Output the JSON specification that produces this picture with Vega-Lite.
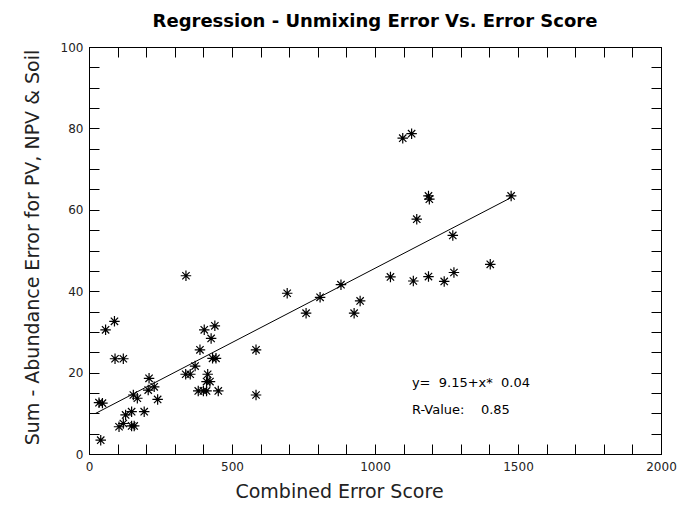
{
  "$schema": "https://vega.github.io/schema/vega-lite/v6.json",
  "autosize": {"type": "none"},
  "width": 572,
  "height": 407,
  "padding": {"left": 89, "top": 47, "right": 26, "bottom": 59},
  "background": "white",
  "config": {
    "view": {"stroke": "#000000", "strokeWidth": 1, "fill": "white"},
    "font": "DejaVu Sans",
    "axis": {"grid": false, "domain": true, "domainColor": "#000000", "domainWidth": 1, "ticks": true, "tickColor": "#000000", "tickWidth": 1, "labelColor": "#222", "titleColor": "#222", "labelFont": "DejaVu Sans", "titleFont": "DejaVu Sans", "titleFontWeight": "normal", "labelFontSize": 12, "titleFontSize": 19}
  },
  "title": {"text": "Regression - Unmixing Error Vs. Error Score", "fontSize": 18, "fontWeight": "bold", "font": "DejaVu Sans", "color": "black", "anchor": "middle", "offset": 10},
  "datasets": {
    "pts": [
      {"score": 35, "err": 12.6}, {"score": 47, "err": 12.5}, {"score": 41, "err": 3.4},
      {"score": 58, "err": 30.5}, {"score": 89, "err": 32.6}, {"score": 91, "err": 23.4},
      {"score": 120, "err": 23.4}, {"score": 105, "err": 6.7}, {"score": 120, "err": 7.5},
      {"score": 128, "err": 9.6}, {"score": 149, "err": 10.4}, {"score": 149, "err": 6.9},
      {"score": 158, "err": 6.9}, {"score": 155, "err": 14.5}, {"score": 169, "err": 13.7},
      {"score": 193, "err": 10.4}, {"score": 210, "err": 18.6}, {"score": 207, "err": 15.7},
      {"score": 228, "err": 16.5}, {"score": 240, "err": 13.4}, {"score": 338, "err": 19.6},
      {"score": 354, "err": 19.6}, {"score": 371, "err": 21.6}, {"score": 388, "err": 25.6},
      {"score": 403, "err": 30.5}, {"score": 427, "err": 28.4}, {"score": 440, "err": 31.5},
      {"score": 432, "err": 23.5}, {"score": 444, "err": 23.5}, {"score": 415, "err": 19.6},
      {"score": 411, "err": 17.8}, {"score": 423, "err": 17.8}, {"score": 382, "err": 15.5},
      {"score": 400, "err": 15.5}, {"score": 411, "err": 15.5}, {"score": 452, "err": 15.5},
      {"score": 584, "err": 25.6}, {"score": 584, "err": 14.5}, {"score": 339, "err": 43.8},
      {"score": 693, "err": 39.5}, {"score": 759, "err": 34.6}, {"score": 808, "err": 38.5},
      {"score": 881, "err": 41.6}, {"score": 927, "err": 34.6}, {"score": 948, "err": 37.6},
      {"score": 1054, "err": 43.5}, {"score": 1134, "err": 42.5}, {"score": 1187, "err": 43.6},
      {"score": 1242, "err": 42.4}, {"score": 1276, "err": 44.6}, {"score": 1403, "err": 46.6},
      {"score": 1272, "err": 53.7}, {"score": 1146, "err": 57.7}, {"score": 1187, "err": 63.4},
      {"score": 1190, "err": 62.6}, {"score": 1097, "err": 77.6}, {"score": 1128, "err": 78.7},
      {"score": 1476, "err": 63.4}
    ],
    "fit": [{"score": 21, "err": 9.9}, {"score": 1476, "err": 63.0}],
    "notes": [
      {"score": 1129, "err": 17.5, "label": "y=\u00a0 9.15+x*\u00a0 0.04"},
      {"score": 1129, "err": 10.8, "label": "R-Value:\u00a0\u00a0\u00a0 0.85"}
    ]
  },
  "resolve": {"axis": {"x": "independent", "y": "independent"}},
  "layer": [
    {
      "data": {"name": "pts"},
      "mark": {"type": "point", "shape": "M0,-1L0,1M-1,0L1,0M-0.7,-0.7L0.7,0.7M-0.7,0.7L0.7,-0.7", "filled": false, "stroke": "black", "strokeWidth": 1.2, "size": 110, "opacity": 1},
      "encoding": {
        "x": {"field": "score", "type": "quantitative", "scale": {"domain": [0, 2000], "nice": false, "zero": false},
          "axis": {"orient": "bottom", "title": "Combined Error Score", "titleX": 250, "titleY": 37, "titleAlign": "center", "titleBaseline": "middle",
            "values": [0,100,200,300,400,500,600,700,800,900,1000,1100,1200,1300,1400,1500,1600,1700,1800,1900,2000],
            "format": "d",
            "labelExpr": "datum.value % 500 === 0 ? datum.label : ''",
            "tickSize": -10,
            "labelPadding": 17, "labelFlush": false, "labelOverlap": false}},
        "y": {"field": "err", "type": "quantitative", "scale": {"domain": [0, 100], "nice": false, "zero": false},
          "axis": {"orient": "left", "title": "Sum - Abundance Error for PV, NPV & Soil", "titleX": -57, "titleY": 200, "titleAlign": "center", "titleBaseline": "middle",
            "values": [0,5,10,15,20,25,30,35,40,45,50,55,60,65,70,75,80,85,90,95,100],
            "labelExpr": "datum.value % 20 === 0 ? datum.label : ''",
            "tickSize": -10,
            "labelPadding": 16, "labelFlush": false, "labelOverlap": false}}
      }
    },
    {
      "data": {"name": "fit"},
      "mark": {"type": "line", "color": "black", "strokeWidth": 1},
      "encoding": {
        "x": {"field": "score", "type": "quantitative", "scale": {"domain": [0, 2000], "nice": false, "zero": false},
          "axis": {"orient": "top", "title": null, "labels": false,
            "values": [0,100,200,300,400,500,600,700,800,900,1000,1100,1200,1300,1400,1500,1600,1700,1800,1900,2000],
            "tickSize": -10}},
        "y": {"field": "err", "type": "quantitative", "scale": {"domain": [0, 100], "nice": false, "zero": false},
          "axis": {"orient": "right", "title": null, "labels": false,
            "values": [0,5,10,15,20,25,30,35,40,45,50,55,60,65,70,75,80,85,90,95,100],
            "tickSize": -10}}
      }
    },
    {
      "data": {"name": "notes"},
      "mark": {"type": "text", "align": "left", "baseline": "middle", "fontSize": 13, "font": "DejaVu Sans", "color": "black"},
      "encoding": {
        "x": {"field": "score", "type": "quantitative", "axis": null},
        "y": {"field": "err", "type": "quantitative", "axis": null},
        "text": {"field": "label"}
      }
    }
  ]
}
